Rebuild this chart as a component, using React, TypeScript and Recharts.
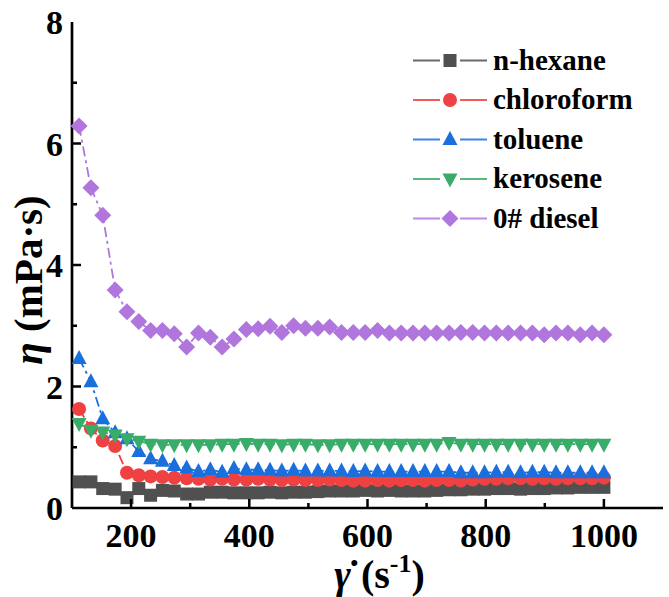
import { Legend, Line, LineChart, XAxis, YAxis } from "recharts";

const SHEAR = [
  112, 132, 152, 173, 193, 213, 233, 253, 273, 294, 314, 334, 354, 374, 395,
  415, 435, 455, 475, 495, 516, 536, 556, 576, 596, 617, 637, 657, 677, 697,
  717, 738, 758, 778, 798, 818, 838, 859, 879, 899, 919, 939, 960, 980, 1000,
];

const HEXANE = [
  0.43, 0.43, 0.32, 0.31, 0.17, 0.32, 0.21, 0.29, 0.28, 0.23, 0.23, 0.26, 0.26,
  0.25, 0.25, 0.25, 0.26, 0.25, 0.26, 0.26, 0.27, 0.28, 0.28, 0.28, 0.29, 0.28,
  0.29, 0.28, 0.28, 0.28, 0.29, 0.3, 0.3, 0.31, 0.31, 0.32, 0.32, 0.31, 0.32,
  0.32, 0.33, 0.33, 0.34, 0.34, 0.34,
];

const CHLOROFORM = [
  1.63, 1.31, 1.11, 1.02, 0.58, 0.54, 0.52, 0.51, 0.5, 0.49, 0.48, 0.47, 0.48,
  0.47, 0.47, 0.48, 0.47, 0.46, 0.47, 0.46, 0.46, 0.47, 0.46, 0.45, 0.45, 0.46,
  0.45, 0.46, 0.46, 0.45, 0.46, 0.46, 0.45, 0.47, 0.48, 0.48, 0.49, 0.49, 0.48,
  0.49, 0.48, 0.49, 0.49, 0.49, 0.5,
];

const TOLUENE = [
  2.46, 2.08, 1.47, 1.24, 1.14, 0.93, 0.81, 0.77, 0.7, 0.66, 0.6, 0.63, 0.59,
  0.65, 0.63, 0.63, 0.62, 0.61, 0.62, 0.61, 0.61, 0.61, 0.61, 0.6, 0.61, 0.6,
  0.6, 0.6, 0.6, 0.6, 0.6, 0.6, 0.58, 0.58, 0.58, 0.59, 0.59, 0.58, 0.59, 0.59,
  0.58, 0.58, 0.58, 0.58, 0.58,
];

const KEROSENE = [
  1.39, 1.28, 1.25, 1.2, 1.14, 1.1, 1.05, 1.04, 1.04, 1.04, 1.04, 1.04, 1.05,
  1.05, 1.06, 1.05, 1.05, 1.04, 1.05, 1.05, 1.04, 1.04, 1.05, 1.05, 1.05, 1.05,
  1.05, 1.05, 1.05, 1.05, 1.05, 1.08, 1.05, 1.05, 1.05, 1.05, 1.05, 1.05, 1.05,
  1.05, 1.05, 1.05, 1.05, 1.05, 1.05,
];

const DIESEL = [
  6.29, 5.27, 4.82, 3.59, 3.23, 3.07, 2.92, 2.92, 2.87, 2.65, 2.88, 2.81, 2.65,
  2.78, 2.94, 2.95, 2.99, 2.89, 3.0, 2.96, 2.96, 2.98, 2.89, 2.89, 2.89, 2.92,
  2.88, 2.88, 2.88, 2.88, 2.88, 2.88, 2.89, 2.89, 2.88, 2.88, 2.88, 2.88, 2.88,
  2.85, 2.88, 2.88, 2.85, 2.88, 2.85,
];

const X_TICKS = [200, 300, 400, 500, 600, 700, 800, 900, 1000];
const Y_TICKS = [0, 1, 2, 3, 4, 5, 6, 7, 8];

const FONT = "Liberation Serif, Times New Roman, DejaVu Serif, serif";
const txt = (size: number) => ({ fontFamily: FONT, fontSize: size, fontWeight: 700 });

type Shape = "square" | "circle" | "up" | "down" | "diamond";

const SERIES: Array<{ key: string; name: string; color: string; shape: Shape; values: number[] }> = [
  { key: "hexane", name: "n-hexane", color: "#505050", shape: "square", values: HEXANE },
  { key: "chloroform", name: "chloroform", color: "#ef4141", shape: "circle", values: CHLOROFORM },
  { key: "toluene", name: "toluene", color: "#1b6fdc", shape: "up", values: TOLUENE },
  { key: "kerosene", name: "kerosene", color: "#3aac6a", shape: "down", values: KEROSENE },
  { key: "diesel", name: "0# diesel", color: "#b076dd", shape: "diamond", values: DIESEL },
];

const data = SHEAR.map((x, i) => {
  const row: Record<string, number> = { x };
  SERIES.forEach((s) => {
    row[s.key] = s.values[i];
  });
  return row;
});

function Marker({ shape, cx, cy, color }: { shape: Shape; cx: number; cy: number; color: string }) {
  if (shape === "square") return <rect x={cx - 6.5} y={cy - 6.5} width={13} height={13} fill={color} />;
  if (shape === "circle") return <circle cx={cx} cy={cy} r={7} fill={color} />;
  if (shape === "up")
    return <polygon points={`${cx},${cy - 8.5} ${cx + 7.5},${cy + 5.5} ${cx - 7.5},${cy + 5.5}`} fill={color} />;
  if (shape === "down")
    return <polygon points={`${cx - 7.5},${cy - 5.5} ${cx + 7.5},${cy - 5.5} ${cx},${cy + 8.5}`} fill={color} />;
  return <polygon points={`${cx},${cy - 8.5} ${cx + 8.5},${cy} ${cx},${cy + 8.5} ${cx - 8.5},${cy}`} fill={color} />;
}

function XTick({ x, y, payload }: any) {
  const v = payload.value;
  const major = v % 200 === 0;
  return (
    <g>
      <line x1={x} y1={y} x2={x} y2={y - (major ? 9 : 5)} stroke="#000" strokeWidth={2.5} />
      {major && (
        <text x={x} y={y + 39} textAnchor="middle" fill="#000" style={txt(34)}>
          {v}
        </text>
      )}
    </g>
  );
}

function YTick({ x, y, payload }: any) {
  const v = payload.value;
  const major = v % 2 === 0;
  const edge = v === 0 || v === 8;
  return (
    <g>
      {!edge && <line x1={x} y1={y} x2={x + (major ? 9 : 5)} y2={y} stroke="#000" strokeWidth={2.5} />}
      {major && (
        <text x={x - 9} y={y + 12} textAnchor="end" fill="#000" style={txt(34)}>
          {v}
        </text>
      )}
    </g>
  );
}

function LegendBox() {
  return (
    <svg width={669} height={260} style={{ display: "block" }}>
      {SERIES.map((s, i) => {
        const y = 60.5 + 39.5 * i;
        return (
          <g key={s.key}>
            <line x1={413} x2={440} y1={y} y2={y} stroke={s.color} strokeWidth={2} opacity={0.85} />
            <line x1={460} x2={487} y1={y} y2={y} stroke={s.color} strokeWidth={2} opacity={0.85} />
            <Marker shape={s.shape} cx={450} cy={y} color={s.color} />
            <text x={493} y={y + 9} fill="#000" style={txt(29)}>
              {s.name}
            </text>
          </g>
        );
      })}
    </svg>
  );
}

export default function App() {
  const axisLine = { stroke: "#000", strokeWidth: 2.7 };
  return (
    <div style={{ position: "absolute", left: 0, top: 0, width: 669, height: 597, background: "#fff" }}>
      <LineChart width={669} height={597} data={data} margin={{ top: 22, right: 6, bottom: 0, left: 0 }}>
        <XAxis
          dataKey="x"
          type="number"
          domain={[100, 1100]}
          ticks={X_TICKS}
          height={89}
          tickLine={false}
          tickSize={0}
          tickMargin={0}
          axisLine={axisLine}
          tick={<XTick />}
          label={{
            content: (p: any) => {
              const vb = p.viewBox;
              return (
                <text x={vb.x + vb.width / 2 + 12} y={vb.y + 80} textAnchor="middle" fill="#000" style={txt(40)}>
                  <tspan fontStyle="italic">γ̇</tspan>
                  <tspan> (s</tspan>
                  <tspan dy={-16} fontSize={26}>-1</tspan>
                  <tspan dy={16}>)</tspan>
                </text>
              );
            },
          }}
        />
        <XAxis
          xAxisId="top"
          orientation="top"
          type="number"
          domain={[100, 1100]}
          height={0}
          tick={false}
          tickLine={false}
          axisLine={axisLine}
        />
        <YAxis
          type="number"
          domain={[0, 8]}
          ticks={Y_TICKS}
          width={72}
          tickLine={false}
          tickSize={0}
          tickMargin={0}
          axisLine={axisLine}
          tick={<YTick />}
          label={{
            content: () => (
              <text
                x={42}
                y={280}
                transform="rotate(-90, 42, 280)"
                textAnchor="middle"
                fill="#000"
                style={txt(41)}
              >
                <tspan fontStyle="italic">η</tspan>
                <tspan> (mPa·s)</tspan>
              </text>
            ),
          }}
        />
        <YAxis
          yAxisId="right"
          orientation="right"
          type="number"
          domain={[0, 8]}
          width={0}
          tick={false}
          tickLine={false}
          axisLine={axisLine}
        />
        <Legend
          layout="horizontal"
          verticalAlign="middle"
          align="center"
          content={() => <LegendBox />}
          wrapperStyle={{ left: 0, top: 0, width: 669, height: 260, pointerEvents: "none" }}
        />
        {SERIES.map((s) => (
          <Line
            key={s.key}
            dataKey={s.key}
            name={s.name}
            stroke={s.color}
            strokeWidth={1.8}
            strokeDasharray="10 4 3 4"
            isAnimationActive={false}
            dot={(p: any) => (
              <Marker key={`${s.key}-${p.index}`} shape={s.shape} cx={p.cx} cy={p.cy} color={s.color} />
            )}
            activeDot={false}
          />
        ))}
      </LineChart>
    </div>
  );
}
